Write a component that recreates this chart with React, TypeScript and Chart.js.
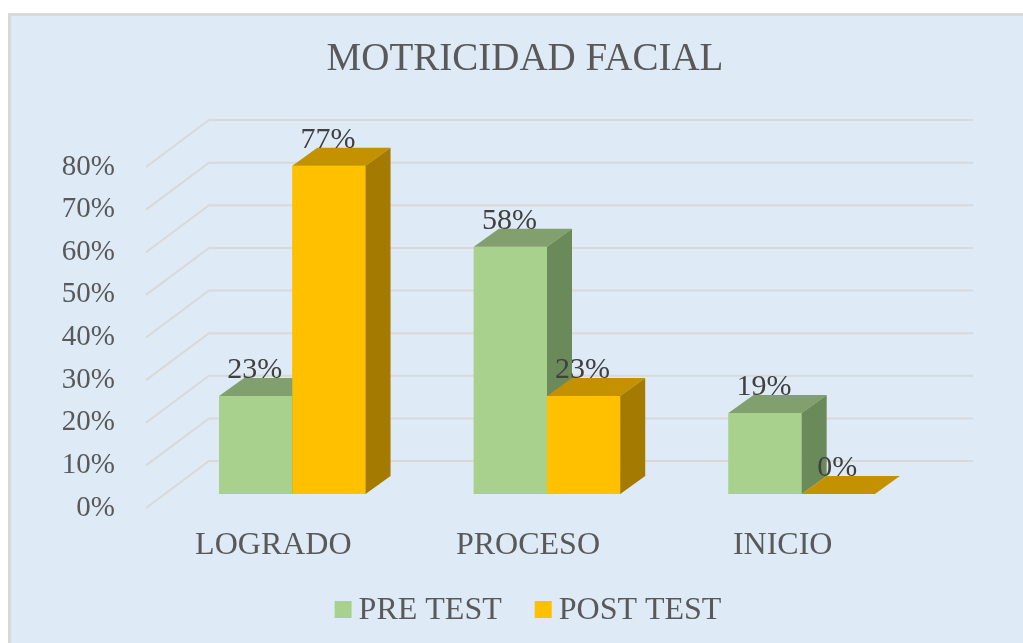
import React, { useEffect, useRef } from "react";
import { Chart, registerables } from "chart.js";

Chart.register(...registerables);

const TITLE = "MOTRICIDAD FACIAL";
const categories = ["LOGRADO", "PROCESO", "INICIO"];
const seriesNames = ["PRE TEST", "POST TEST"];
const preTest = [23, 58, 19];
const postTest = [77, 23, 0];
const yMax = 80;
const yStep = 10;

const SERIF = "'Liberation Serif', 'Times New Roman', serif";
const frontColors = ["#A9D18E", "#FFC000"];
const topColors = ["#81A06D", "#C49100"];
const sideColors = ["#6B8A5A", "#A47B00"];
const textGray = "#595959";
const labelGray = "#404040";
const gridColor = "#D9D9D9";

// 3D geometry (pixels)
const DX = 25; // bar depth x
const DY = 18; // bar depth y (upwards)
const FX = -19; // front floor edge offset relative to bar plane
const FY = 14;
const BX = 44; // back wall offset relative to bar plane
const BY = -33;

const threeD = {
  id: "threeD",
  beforeDraw(chart: any) {
    const ctx = chart.ctx;
    ctx.save();
    ctx.fillStyle = "#DEEAF6";
    ctx.fillRect(9, 14, chart.width, chart.height);
    ctx.strokeStyle = "#D9D9D9";
    ctx.lineWidth = 3;
    ctx.strokeRect(9.5, 14.5, chart.width + 20, chart.height + 20);
    ctx.restore();
  },
  beforeDatasetsDraw(chart: any) {
    const { ctx, chartArea } = chart;
    const y = chart.scales.y;
    ctx.save();
    ctx.strokeStyle = gridColor;
    ctx.lineWidth = 2;
    y.ticks.forEach((t: any) => {
      const py = y.getPixelForValue(t.value);
      ctx.beginPath();
      ctx.moveTo(chartArea.left + FX, py + FY);
      ctx.lineTo(chartArea.left + BX, py + BY);
      ctx.lineTo(chartArea.right + BX, py + BY);
      ctx.stroke();
    });
    ctx.restore();
  },
  afterDatasetsDraw(chart: any) {
    const ctx = chart.ctx;
    ctx.save();
    // redraw bars as boxes, dataset by dataset, left to right
    chart.data.datasets.forEach((ds: any, i: number) => {
      const meta = chart.getDatasetMeta(i);
      meta.data.forEach((bar: any) => {
        const { x, y, base, width } = bar.getProps(["x", "y", "base", "width"], true);
        const L = x - width / 2;
        const R = x + width / 2;
        // front face
        ctx.fillStyle = frontColors[i];
        ctx.fillRect(L, y, R - L, base - y);
        // top face
        ctx.fillStyle = topColors[i];
        ctx.beginPath();
        ctx.moveTo(L, y);
        ctx.lineTo(R, y);
        ctx.lineTo(R + DX, y - DY);
        ctx.lineTo(L + DX, y - DY);
        ctx.closePath();
        ctx.fill();
        // side face
        if (base - y > 0.5) {
          ctx.fillStyle = sideColors[i];
          ctx.beginPath();
          ctx.moveTo(R, y);
          ctx.lineTo(R + DX, y - DY);
          ctx.lineTo(R + DX, base - DY);
          ctx.lineTo(R, base);
          ctx.closePath();
          ctx.fill();
        }
      });
    });
    // data labels
    ctx.fillStyle = labelGray;
    ctx.font = `30px ${SERIF}`;
    ctx.textAlign = "center";
    ctx.textBaseline = "alphabetic";
    chart.data.datasets.forEach((ds: any, i: number) => {
      const meta = chart.getDatasetMeta(i);
      meta.data.forEach((bar: any, j: number) => {
        const { x, y } = bar.getProps(["x", "y"], true);
        ctx.fillText(`${ds.data[j]}%`, x - 1, y - 18);
      });
    });
    ctx.restore();
  },
  afterDraw(chart: any) {
    const ctx = chart.ctx;
    ctx.save();
    // title
    ctx.fillStyle = textGray;
    ctx.font = `39px ${SERIF}`;
    ctx.textAlign = "center";
    ctx.textBaseline = "alphabetic";
    ctx.fillText(TITLE, 525, 70);
    // legend
    ctx.font = `32px ${SERIF}`;
    const box = 17;
    const gapText = 7;
    const gapItem = 33;
    const widths = chart.data.datasets.map((ds: any) => ctx.measureText(ds.label).width);
    let total = 0;
    widths.forEach((w: number, k: number) => {
      total += box + gapText + w + (k > 0 ? gapItem : 0);
    });
    let xx = 528 - total / 2;
    const cy = 609.5;
    ctx.textAlign = "left";
    ctx.textBaseline = "middle";
    chart.data.datasets.forEach((ds: any, k: number) => {
      ctx.fillStyle = ds.backgroundColor;
      ctx.fillRect(xx, cy - box / 2, box, box);
      xx += box + gapText;
      ctx.fillStyle = textGray;
      ctx.fillText(ds.label, xx, cy + 1);
      xx += widths[k] + gapItem;
    });
    ctx.restore();
  },
};

export default function App() {
  const ref = useRef<HTMLCanvasElement>(null);
  useEffect(() => {
    if (!ref.current) return;
    const chart = new Chart(ref.current, {
      type: "bar",
      data: {
        labels: categories,
        datasets: [
          { label: seriesNames[0], data: preTest, backgroundColor: frontColors[0], borderWidth: 0 },
          { label: seriesNames[1], data: postTest, backgroundColor: frontColors[1], borderWidth: 0 },
        ],
      },
      options: {
        animation: false,
        responsive: false,
        devicePixelRatio: 1,
        layout: { padding: { top: 153, right: 94, bottom: 0, left: 0 } },
        datasets: { bar: { barPercentage: 1, categoryPercentage: 0.575 } },
        plugins: {
          legend: { display: false },
          title: { display: false },
          tooltip: { enabled: false },
        },
        scales: {
          x: {
            grid: { display: false },
            border: { display: false },
            ticks: {
              color: textGray,
              font: { family: SERIF, size: 32, lineHeight: 1.2 },
              padding: 24,
              labelOffset: FX,
              maxRotation: 0,
            },
            afterFit: (s: any) => {
              s.height = 149;
            },
          },
          y: {
            min: 0,
            max: yMax,
            grid: { display: false },
            border: { display: false },
            ticks: {
              stepSize: yStep,
              color: textGray,
              font: { family: SERIF, size: 29 },
              padding: 42,
              labelOffset: FY,
              callback: (v: any) => `${v}%`,
            },
            afterFit: (s: any) => {
              s.width = 165;
            },
          },
        },
      },
      plugins: [threeD],
    });
    return () => chart.destroy();
  }, []);
  return (
    <div style={{ position: "absolute", left: 0, top: 0, width: 1023, height: 643 }}>
      <canvas ref={ref} width={1023} height={643} />
    </div>
  );
}
